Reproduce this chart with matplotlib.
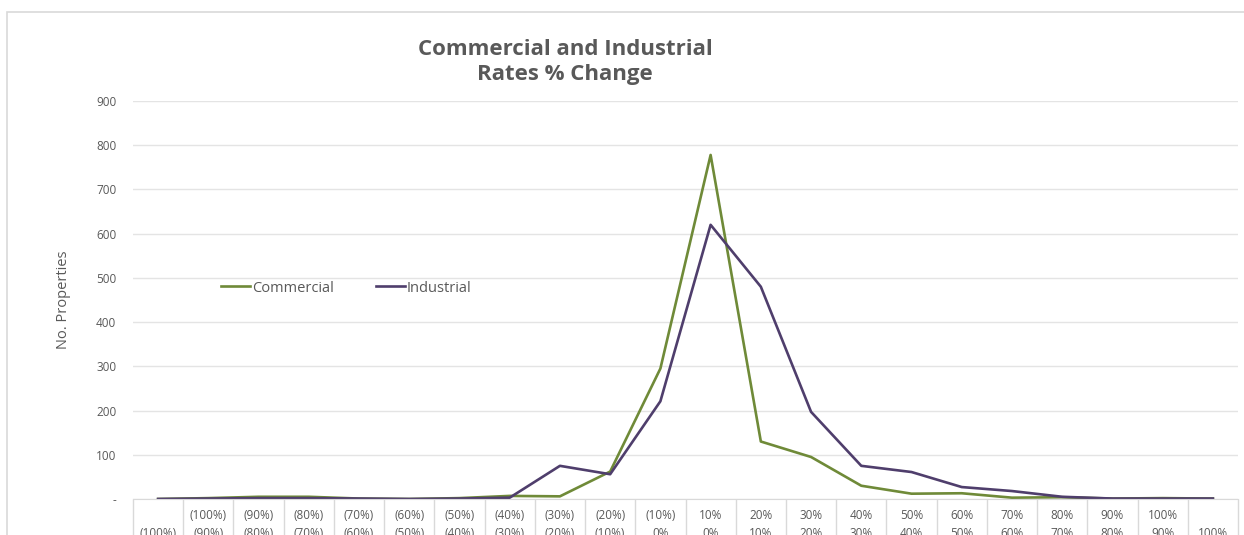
import matplotlib.pyplot as plt
import numpy as np
from matplotlib.patches import Rectangle

# rate change bands (upper / lower bound)
bands = ["\n(100%)", "(100%)\n(90%)", "(90%)\n(80%)", "(80%)\n(70%)", "(70%)\n(60%)",
         "(60%)\n(50%)", "(50%)\n(40%)", "(40%)\n(30%)", "(30%)\n(20%)", "(20%)\n(10%)",
         "(10%)\n0%", "10%\n0%", "20%\n10%", "30%\n20%", "40%\n30%", "50%\n40%",
         "60%\n50%", "70%\n60%", "80%\n70%", "90%\n80%", "100%\n90%", "\n100%"]

commercial = [0, 2, 5, 5, 1, 0, 2, 7, 6, 62, 295, 778, 130, 95, 30, 12, 13, 3, 4, 1, 2, 1]
industrial = [0, 1, 2, 2, 1, 0, 1, 3, 75, 56, 221, 620, 480, 197, 75, 61, 27, 18, 5, 1, 1, 1]

yticks = [0, 100, 200, 300, 400, 500, 600, 700, 800, 900]
ytick_labels = ["-"] + [str(v) for v in yticks[1:]]

green = "#6f8a38"
purple = "#4f3e6c"
grey = "#595959"

plt.rcParams["font.family"] = ["Open Sans", "DejaVu Sans"]

fig = plt.figure(figsize=(12.44, 5.35), dpi=100)
# outer chart frame
fig.patches.append(Rectangle((7 / 1244, -0.1), 1.1, 1 - 12 / 535 + 0.1,
                             transform=fig.transFigure, fill=False,
                             edgecolor="#d9d9d9", linewidth=1.2))

ax = fig.add_axes([133 / 1244, 1 - 499 / 535, (1238 - 133) / 1244, (499 - 101) / 535])

x = np.arange(len(bands))
ax.plot(x, commercial, color=green, linewidth=1.9, label="Commercial")
ax.plot(x, industrial, color=purple, linewidth=1.9, label="Industrial")

ax.set_xlim(-0.5, len(bands) - 0.5)
ax.set_ylim(0, 900)
ax.set_yticks(yticks)
ax.set_yticklabels(ytick_labels)
ax.grid(axis="y", color="#e4e4e4", linewidth=1)
ax.set_axisbelow(True)

for s in ["top", "right", "left"]:
    ax.spines[s].set_visible(False)
ax.spines["bottom"].set_color("#d9d9d9")

ax.tick_params(axis="y", length=0, pad=12, labelsize=8.5, labelcolor=grey)
ax.set_xticks(x)
ax.set_xticklabels(bands, fontsize=8.5, color=grey, linespacing=1.55)
ax.tick_params(axis="x", which="major", length=0, pad=7)
ax.set_xticks(np.arange(len(bands) + 1) - 0.5, minor=True)
ax.tick_params(axis="x", which="minor", length=40, color="#d9d9d9", width=1)

ax.set_ylabel("No. Properties", fontsize=10.5, color=grey, labelpad=18)

fig.text(565 / 1244, 1 - 62 / 535, "Commercial and Industrial\nRates % Change",
         ha="center", va="center", fontsize=16, fontweight="bold", color=grey,
         linespacing=1.2)

ax.legend(loc="center left", bbox_to_anchor=(0.068, 0.53), ncol=2, frameon=False,
          fontsize=10.5, labelcolor=grey, handlelength=2.0, handletextpad=0.1,
          columnspacing=2.9)

fig.savefig("out.png", dpi=100)
